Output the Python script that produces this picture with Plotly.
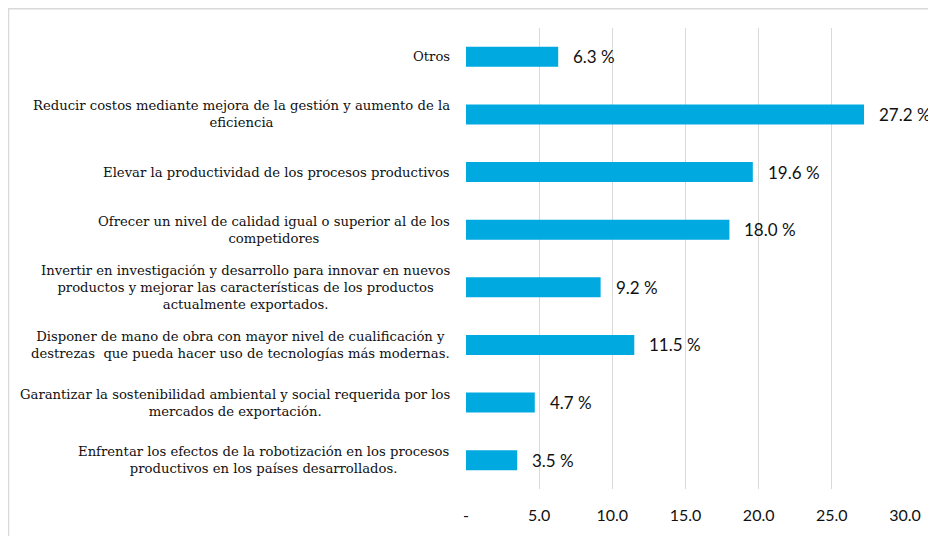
import plotly.graph_objects as go

categories = [
    "Otros",
    "Reducir costos mediante mejora de la gestión y aumento de la<br>eficiencia",
    "Elevar la productividad de los procesos productivos",
    "Ofrecer un nivel de calidad igual o superior al de los<br>competidores",
    "Invertir en investigación y desarrollo para innovar en nuevos<br>productos y mejorar las características de los productos<br>actualmente exportados.",
    "Disponer de mano de obra con mayor nivel de cualificación y<br>destrezas  que pueda hacer uso de tecnologías más modernas.",
    "Garantizar la sostenibilidad ambiental y social requerida por los<br>mercados de exportación.",
    "Enfrentar los efectos de la robotización en los procesos<br>productivos en los países desarrollados.",
]
values = [6.3, 27.2, 19.6, 18.0, 9.2, 11.5, 4.7, 3.5]
tick_vals = [0, 5, 10, 15, 20, 25, 30]
tick_text = ["-", "5.0", "10.0", "15.0", "20.0", "25.0", "30.0"]

ids = list(range(len(categories)))

fig = go.Figure()
fig.add_trace(go.Bar(
    x=values, y=ids, orientation="h",
    marker=dict(color="#00A9E0", line=dict(width=0)),
    hoverinfo="skip",
))

annotations = []
for i, (c, v) in enumerate(zip(categories, values)):
    annotations.append(dict(
        x=0, y=i, xref="x", yref="y", text=c, showarrow=False,
        xanchor="right", yanchor="middle", align="center", xshift=-14,
        font=dict(family="DejaVu Serif", size=13.2, color="#111111"),
    ))
    annotations.append(dict(
        x=v, y=i, xref="x", yref="y", text=f"{v:.1f} %", showarrow=False,
        xanchor="left", yanchor="middle", xshift=13,
        font=dict(family="Lato", size=17, color="#111111"),
    ))

fig.update_layout(
    width=928, height=528,
    margin=dict(l=458, r=31, t=20, b=44),
    paper_bgcolor="white", plot_bgcolor="white",
    showlegend=False,
    bargap=0.655,
    annotations=annotations,
    xaxis=dict(
        range=[0, 30], tickvals=tick_vals, ticktext=tick_text,
        showgrid=True, gridcolor="#D9D9D9", gridwidth=1,
        zeroline=False, showline=False, ticks="",
        ticklabelstandoff=15,
        tickfont=dict(family="Lato", size=16, color="#111111"),
    ),
    yaxis=dict(
        range=[len(categories) - 0.5, -0.5], showticklabels=False,
        showgrid=False, zeroline=False, showline=False, ticks="",
    ),
    shapes=[dict(type="rect", xref="paper", yref="paper",
                 x0=-458/439 + 0.5/439, x1=2, y0=-1, y1=1 + 19.5/464,
                 line=dict(color="#D9D9D9", width=1.5), layer="below")],
)

fig.write_html("out.html")
